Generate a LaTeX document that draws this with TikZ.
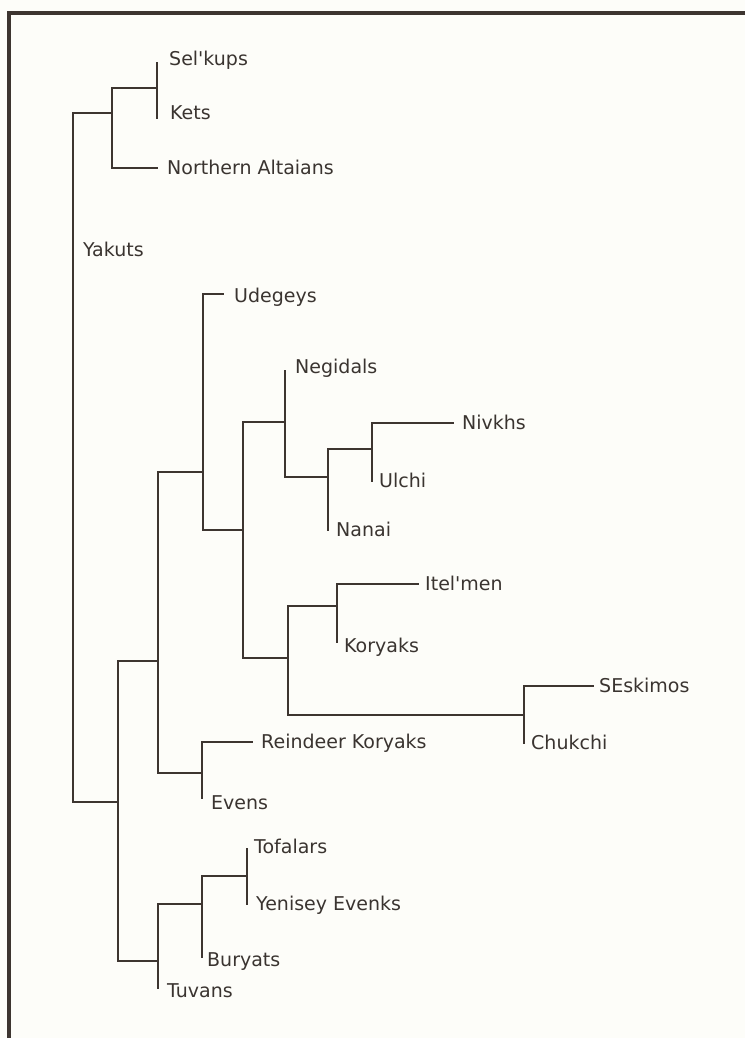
\documentclass[tikz,border=0pt]{standalone}
\usepackage{fontspec}
\setmainfont{DejaVu Sans}
\usepackage{xcolor}
\usepackage{tikz}
\usetikzlibrary{positioning}
\definecolor{treeInk}{HTML}{3D3530}
\definecolor{treeText}{HTML}{3A3430}
\definecolor{treePaper}{HTML}{FDFDF9}
\tikzset{
  branch/.style={draw=treeInk, line width=2pt, line cap=rect},
  frameline/.style={draw=treeInk, line width=4.8pt},
  taxon/.style={font=\fontsize{19}{22}\selectfont, text=treeText, inner sep=0pt,
        text height=13.8pt, text depth=0pt}
}

\begin{document}
\begin{tikzpicture}[x=1pt, y=-1pt,
  tip/.style={coordinate},
  clade/.style={coordinate}
]
\useasboundingbox (0,0) rectangle (745,1038);
\fill[treePaper] (0,0) rectangle (745,1038);
\draw[frameline] (745,13) -| (9,1038);

\coordinate[clade] (root)  at (73,113);
\coordinate[clade] (cSib)  at (112,113);
\coordinate[clade] (cSK)   at (157,88);
\coordinate[tip] (tSelkups) at (157,63);
\coordinate[tip] (tKets)    at (157,118);
\coordinate[tip] (tAltai)   at (157,168);

\coordinate[clade] (cMain) at (118,802);
\coordinate[clade] (cEast) at (158,661);
\coordinate[clade] (cAmur) at (203,472);
\coordinate[tip] (tUdeg)    at (223,294);
\coordinate[clade] (cTung) at (243,530);
\coordinate[clade] (cNeg)  at (285,422);
\coordinate[tip] (tNegid)   at (285,371);
\coordinate[clade] (cNan)  at (328,477);
\coordinate[clade] (cNiv)  at (372,449);
\coordinate[tip] (tNivkh)   at (453,423);
\coordinate[tip] (tUlchi)   at (372,481);
\coordinate[tip] (tNanai)   at (328,530);
\coordinate[clade] (cPal)  at (288,658);
\coordinate[clade] (cKam)  at (337,606);
\coordinate[tip] (tItel)    at (418,584);
\coordinate[tip] (tKory)    at (337,642);
\coordinate[clade] (cEsk)  at (524,715);
\coordinate[tip] (tSEsk)    at (593,686);
\coordinate[tip] (tChuk)    at (524,743);
\coordinate[clade] (cEven) at (202,773);
\coordinate[tip] (tReind)   at (252,742);
\coordinate[tip] (tEvens)   at (202,798);

\coordinate[clade] (cSay)  at (158,961);
\coordinate[clade] (cBur)  at (202,904);
\coordinate[clade] (cTof)  at (247,876);
\coordinate[tip] (tTof)     at (247,849);
\coordinate[tip] (tYen)     at (247,904);
\coordinate[tip] (tBur)     at (202,957);
\coordinate[tip] (tTuv)     at (158,988);

\node[taxon, anchor=west] (yakuts) at (83,250) {Yakuts};
\node[taxon, right=12pt of tSelkups, yshift=4pt] (selkups) {Sel\textquotesingle kups};
\node[taxon, right=13pt of tKets, yshift=5pt] (kets) {Kets};
\node[taxon, right=10pt of tAltai] (altai) {Northern Altaians};
\node[taxon, right=11pt of tUdeg, yshift=-2pt] (udeg) {Udegeys};
\node[taxon, right=10pt of tNegid, yshift=4pt] (negid) {Negidals};
\node[taxon, right=9pt of tNivkh] (nivkh) {Nivkhs};
\node[taxon, right=7pt of tUlchi] (ulchi) {Ulchi};
\node[taxon, right=8pt of tNanai] (nanai) {Nanai};
\node[taxon, right=7pt of tItel] (itel) {Itel\textquotesingle men};
\node[taxon, right=7pt of tKory, yshift=-4pt] (kory) {Koryaks};
\node[taxon, right=6pt of tSEsk] (seskimo) {SEskimos};
\node[taxon, right=7pt of tChuk] (chuk) {Chukchi};
\node[taxon, right=9pt of tReind] (reind) {Reindeer Koryaks};
\node[taxon, right=9pt of tEvens, yshift=-5pt] (evens) {Evens};
\node[taxon, right=7pt of tTof, yshift=2pt] (tofal) {Tofalars};
\node[taxon, right=9pt of tYen] (yenis) {Yenisey Evenks};
\node[taxon, right=5pt of tBur, yshift=-3pt] (buryat) {Buryats};
\node[taxon, right=9pt of tTuv, yshift=-3pt] (tuvan) {Tuvans};

\draw[branch] (cSib) -| (root) |- (cMain);
\draw[branch] (cSK) -| (cSib) |- (tAltai);
\draw[branch] (tSelkups) -| (cSK) |- (tKets);
\draw[branch] (cEast) -| (cMain) |- (cSay);
\draw[branch] (cAmur) -| (cEast) |- (cEven);
\draw[branch] (tUdeg) -| (cAmur) |- (cTung);
\draw[branch] (cNeg) -| (cTung) |- (cPal);
\draw[branch] (tNegid) -| (cNeg) |- (cNan);
\draw[branch] (cNiv) -| (cNan) |- (tNanai);
\draw[branch] (tNivkh) -| (cNiv) |- (tUlchi);
\draw[branch] (cKam) -| (cPal) |- (cEsk);
\draw[branch] (tItel) -| (cKam) |- (tKory);
\draw[branch] (tSEsk) -| (cEsk) |- (tChuk);
\draw[branch] (tReind) -| (cEven) |- (tEvens);
\draw[branch] (cBur) -| (cSay) |- (tTuv);
\draw[branch] (cTof) -| (cBur) |- (tBur);
\draw[branch] (tTof) -| (cTof) |- (tYen);
\end{tikzpicture}
\end{document}
